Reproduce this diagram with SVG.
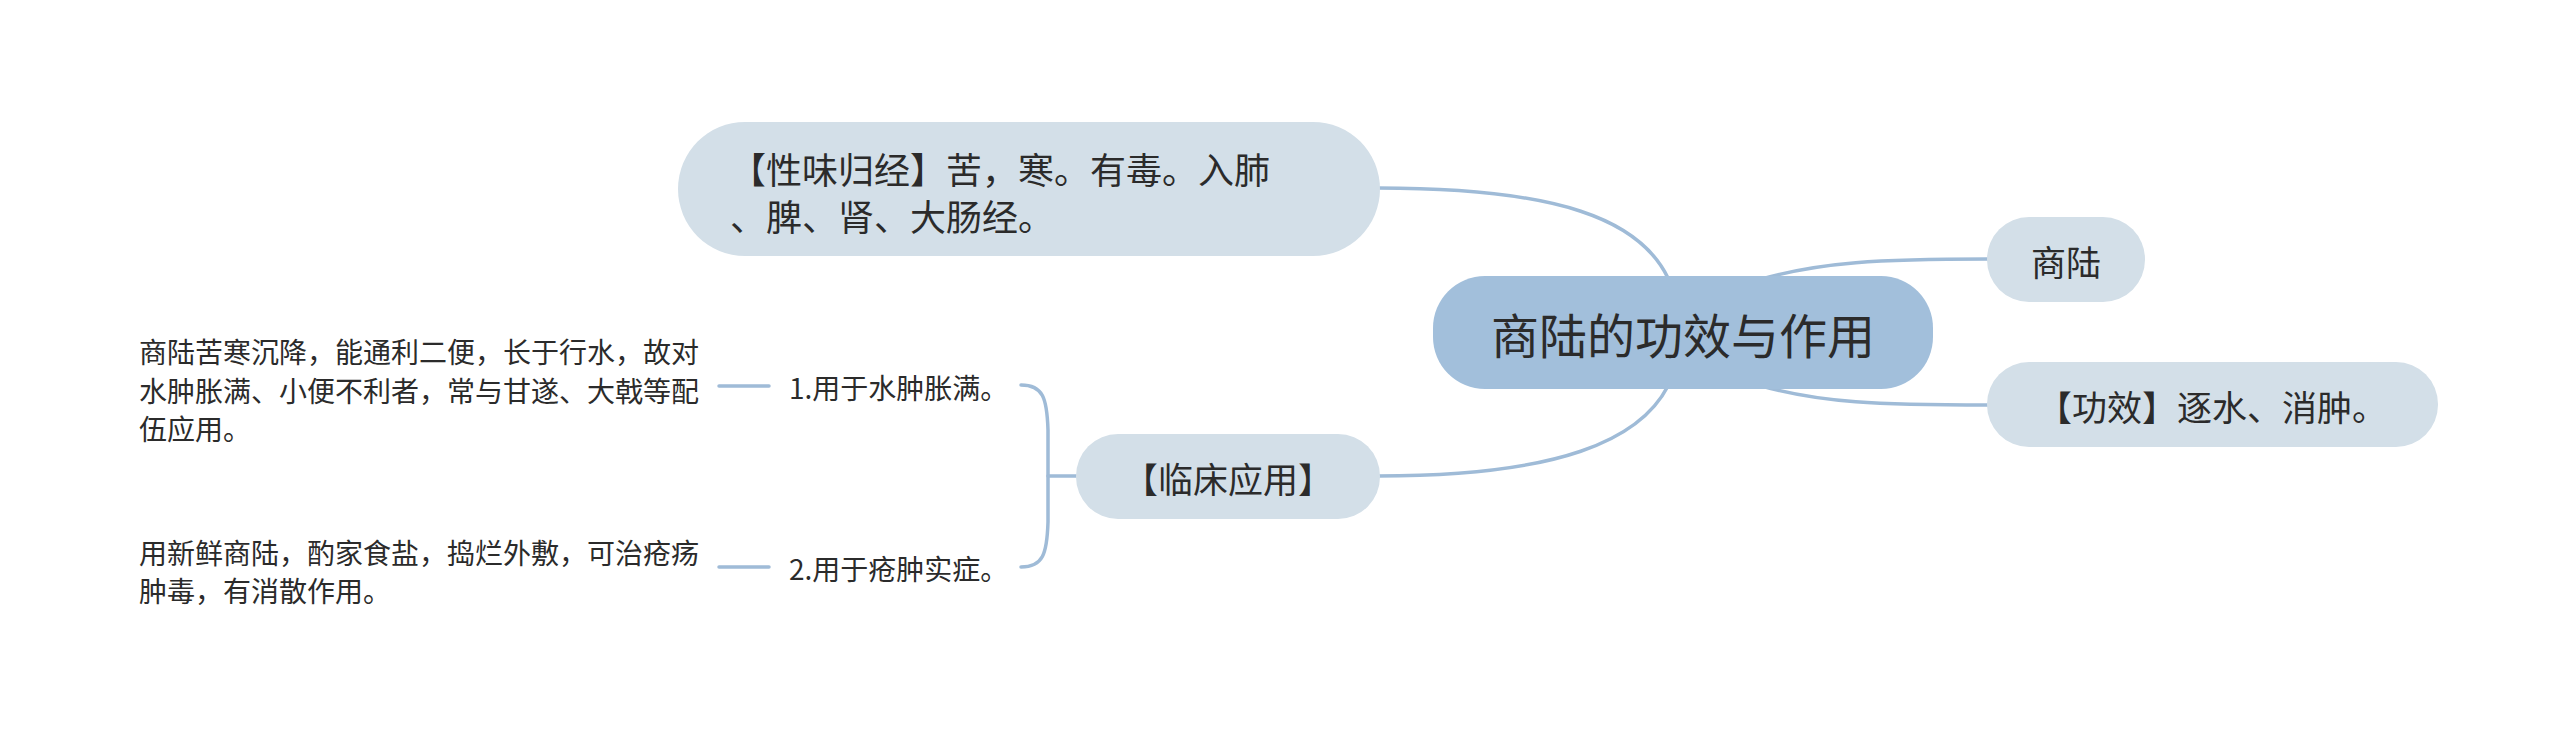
<svg xmlns="http://www.w3.org/2000/svg" width="2560" height="739" viewBox="0 0 2560 739">
<style>
.bg{fill:#ffffff}
.lk{fill:none;stroke:#9fbbd7;stroke-width:3.5;stroke-linecap:round}
.sub{fill:#d3dfe8}
.root{fill:#a2bfdb}
text{font-family:"Noto Sans CJK SC","Noto Sans",sans-serif;fill:#2b2b2b}
.t35{font-size:35px}
.t36{font-size:36px}
.t28{font-size:28px}
.t48{font-size:48px}
</style>
<rect class="bg" x="0" y="0" width="2560" height="739"/>
<g id="connectors">
<path class="lk" d="M1378,188 C1560,188 1640,220 1668,278"/>
<path class="lk" d="M1378,476 C1560,476 1640,440 1668,386"/>
<path class="lk" d="M1758,280 C1820,262 1880,259 1988,259"/>
<path class="lk" d="M1758,385 C1820,403 1880,405 1988,405"/>
<path class="lk" d="M1021,385 C1043,385 1047,398 1048,430 L1048,522 C1047,554 1043,567 1021,567"/>
<path class="lk" d="M1048,476 L1076,476"/>
<path class="lk" d="M719,386 L769,386"/>
<path class="lk" d="M719,567 L769,567"/>
</g>
<g id="node-xingwei">
<rect class="sub" x="678" y="122" width="702" height="134" rx="67"/>
<text class="t36" x="730" y="168" dominant-baseline="central">【性味归经】苦，寒。有毒。入肺</text>
<text class="t36" x="730" y="215" dominant-baseline="central">、脾、肾、大肠经。</text>
</g>
<g id="node-root">
<rect class="root" x="1433" y="276" width="500" height="113" rx="52"/>
<text class="t48" x="1683" y="333" text-anchor="middle" dominant-baseline="central">商陆的功效与作用</text>
</g>
<g id="node-shanglu">
<rect class="sub" x="1987" y="217" width="158" height="85" rx="42"/>
<text class="t35" x="2066" y="260" text-anchor="middle" dominant-baseline="central">商陆</text>
</g>
<g id="node-gongxiao">
<rect class="sub" x="1987" y="362" width="451" height="85" rx="42"/>
<text class="t35" x="2212" y="405" text-anchor="middle" dominant-baseline="central">【功效】逐水、消肿。</text>
</g>
<g id="node-linchuang">
<rect class="sub" x="1076" y="434" width="304" height="85" rx="42"/>
<text class="t35" x="1228" y="477" text-anchor="middle" dominant-baseline="central">【临床应用】</text>
</g>
<g id="node-label1">
<text class="t28" x="789" y="387" dominant-baseline="central">1.用于水肿胀满。</text>
</g>
<g id="node-label2">
<text class="t28" x="789" y="568" dominant-baseline="central">2.用于疮肿实症。</text>
</g>
<g id="node-detail1">
<text class="t28" x="139" y="351" dominant-baseline="central">商陆苦寒沉降，能通利二便，长于行水，故对</text>
<text class="t28" x="139" y="390" dominant-baseline="central">水肿胀满、小便不利者，常与甘遂、大戟等配</text>
<text class="t28" x="139" y="428" dominant-baseline="central">伍应用。</text>
</g>
<g id="node-detail2">
<text class="t28" x="139" y="552" dominant-baseline="central">用新鲜商陆，酌家食盐，捣烂外敷，可治疮疡</text>
<text class="t28" x="139" y="590" dominant-baseline="central">肿毒，有消散作用。</text>
</g>
</svg>
